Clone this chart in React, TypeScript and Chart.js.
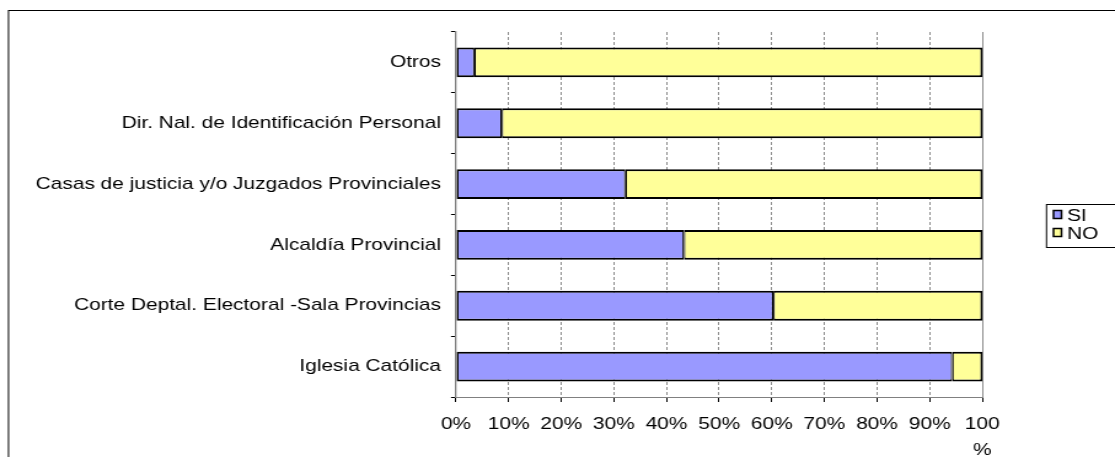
import { useEffect, useRef } from "react";
import { Chart, registerables } from "chart.js";

Chart.register(...registerables);

const categories = [
  "Otros",
  "Dir. Nal. de Identificación Personal",
  "Casas de justicia y/o Juzgados Provinciales",
  "Alcaldía Provincial",
  "Corte Deptal. Electoral -Sala Provincias",
  "Iglesia Católica",
];
const siValues = [3.5, 8.7, 32.2, 43.3, 60.3, 94.3];
const noValues = [96.5, 91.3, 67.8, 56.7, 39.7, 5.7];
const seriesNames = ["SI", "NO"];
const seriesColors = ["#9999FF", "#FFFF99"];
const xTickLabels: (string | string[])[] = [
  "0%", "10%", "20%", "30%", "40%", "50%", "60%", "70%", "80%", "90%", ["100", "%"],
];

const FONT = "'Liberation Sans', Arial, sans-serif";
const FONT_SIZE = 17;
// the original picture is horizontally stretched; draw narrower and stretch with CSS
const VIEW_W = 1115;
const VIEW_H = 457;
const CANVAS_W = 907;
const SX = VIEW_W / CANVAS_W;
const px = (x: number) => x / SX;

const framePlugin = {
  id: "frameAndLegend",
  afterDraw(chart: any) {
    const ctx = chart.ctx as CanvasRenderingContext2D;
    ctx.save();
    // outer frame
    ctx.strokeStyle = "#000";
    ctx.lineWidth = 1;
    ctx.strokeRect(px(8.5), 10.5, 1200, 600);
    // legend box
    ctx.fillStyle = "#fff";
    ctx.fillRect(px(1046.5), 204.5, 100, 43);
    ctx.strokeRect(px(1046.5), 204.5, 100, 43);
    ctx.font = `${FONT_SIZE}px ${FONT}`;
    ctx.textBaseline = "middle";
    const rows = [215, 233];
    seriesNames.forEach((name, i) => {
      const y = rows[i];
      ctx.fillStyle = seriesColors[i];
      ctx.fillRect(px(1053.5), y - 4.5, px(8), 8);
      ctx.strokeStyle = "#000";
      ctx.lineWidth = 1.5;
      ctx.strokeRect(px(1053.5), y - 4.5, px(8), 8);
      ctx.fillStyle = "#000";
      ctx.fillText(name, px(1067), y + 1);
    });
    ctx.restore();
  },
};

export default function App() {
  const ref = useRef<HTMLCanvasElement | null>(null);
  useEffect(() => {
    if (!ref.current) return;
    const chart = new Chart(ref.current, {
      type: "bar",
      data: {
        labels: categories,
        datasets: [
          {
            label: seriesNames[0],
            data: siValues,
            backgroundColor: seriesColors[0],
            borderColor: "#000",
            borderWidth: { left: 1.6, top: 2, bottom: 2, right: 1.2 },
            borderSkipped: false,
            barPercentage: 0.49,
            categoryPercentage: 1,
          },
          {
            label: seriesNames[1],
            data: noValues,
            backgroundColor: seriesColors[1],
            borderColor: "#000",
            borderWidth: { left: 1.2, top: 2, bottom: 2, right: 1.6 },
            borderSkipped: false,
            barPercentage: 0.49,
            categoryPercentage: 1,
          },
        ],
      },
      options: {
        indexAxis: "y",
        responsive: false,
        animation: false,
        layout: { padding: { top: 32, right: CANVAS_W - px(982.3), left: 0, bottom: 0 } },
        plugins: {
          legend: { display: false },
          tooltip: { enabled: false },
        },
        scales: {
          x: {
            stacked: true,
            min: 0,
            max: 100,
            afterFit(scale: any) {
              scale.height = 60;
            },
            ticks: {
              stepSize: 10,
              autoSkip: false,
              maxRotation: 0,
              padding: 9,
              color: "#000",
              font: { family: FONT, size: FONT_SIZE, lineHeight: 1.53 },
              callback: (_v: any, i: number) => xTickLabels[i],
            },
            grid: {
              color: "#8c8c8c",
              lineWidth: 1,
              tickColor: "#000",
              tickLength: 5,
            },
            border: {
              color: "#808080",
              width: 1,
              dash: (c: any) =>
                c.tick && c.tick.value > 0 && c.tick.value < 100 ? [3, 2] : [],
            },
          },
          y: {
            stacked: true,
            afterFit(scale: any) {
              scale.width = px(456);
            },
            ticks: {
              padding: px(10),
              color: "#000",
              font: { family: FONT, size: FONT_SIZE },
            },
            grid: {
              offset: true,
              drawOnChartArea: false,
              tickColor: "#000",
              tickLength: px(5),
            },
            border: { color: "#808080", width: 1.3 },
          },
        },
      },
      plugins: [framePlugin],
    });
    return () => chart.destroy();
  }, []);
  return (
    <div style={{ width: VIEW_W, height: VIEW_H, overflow: "hidden" }}>
      <style>{"body{margin:0;overflow:hidden}"}</style>
      <canvas
        ref={ref}
        width={CANVAS_W}
        height={VIEW_H}
        style={{
          display: "block",
          width: CANVAS_W,
          height: VIEW_H,
          transform: `scaleX(${SX})`,
          transformOrigin: "0 0",
        }}
      />
    </div>
  );
}
